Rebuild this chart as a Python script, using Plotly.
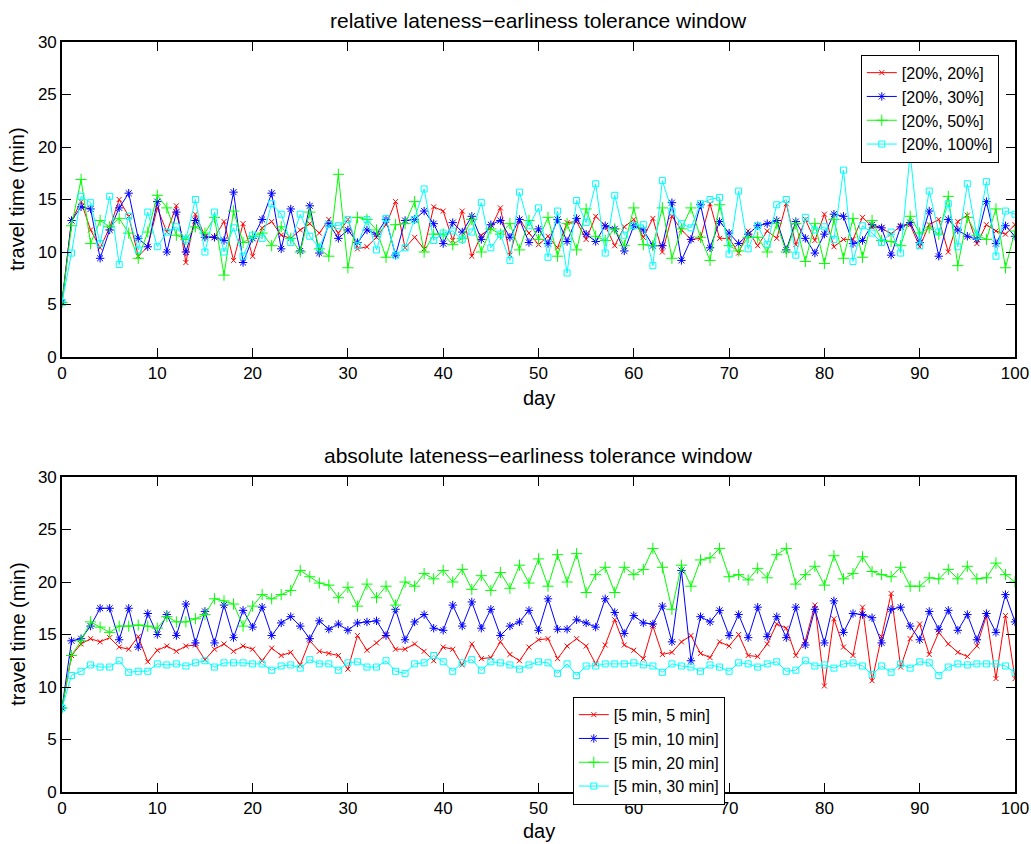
import plotly.graph_objects as go

days = list(range(0, 101))

# top: relative window
rel_20_20 = [5.2, 13.0, 14.8, 12.1, 10.4, 12.3, 15.0, 13.4, 9.6, 10.5,
             14.2, 11.9, 14.4, 9.0, 13.6, 11.5, 11.4, 12.9, 9.2, 12.7,
             9.6, 12.3, 12.9, 11.6, 11.3, 12.1, 12.7, 11.8, 13.1, 11.8,
             13.1, 10.3, 10.5, 11.4, 12.6, 14.8, 10.4, 11.4, 10.3, 14.3,
             13.9, 11.1, 13.9, 9.6, 11.6, 12.3, 14.2, 9.7, 13.1, 11.8,
             10.7, 11.5, 10.4, 12.8, 12.9, 11.2, 13.4, 12.5, 10.6, 12.4,
             13.1, 11.4, 13.2, 10.0, 13.4, 12.1, 11.2, 11.3, 14.6, 11.3,
             11.3, 9.9, 12.0, 10.6, 12.0, 11.3, 14.6, 10.7, 13.1, 11.1,
             13.6, 10.5, 11.2, 11.2, 13.3, 12.4, 12.3, 11.7, 12.5, 12.6,
             10.5, 12.6, 13.1, 10.0, 12.9, 13.5, 10.8, 12.6, 12.0, 11.7,
             12.6]
rel_20_30 = [5.2, 13.0, 14.3, 14.1, 9.4, 12.1, 14.2, 15.6, 11.3, 10.5,
             14.8, 10.0, 13.8, 10.0, 13.0, 11.4, 11.4, 11.1, 15.7, 9.0,
             11.3, 13.1, 15.6, 10.3, 14.1, 10.1, 14.4, 9.9, 12.7, 11.3,
             12.1, 10.9, 12.1, 11.7, 13.1, 9.7, 13.0, 13.1, 13.9, 12.7,
             10.8, 12.8, 11.9, 13.4, 11.2, 12.6, 13.0, 11.4, 13.1, 10.9,
             12.2, 10.8, 13.1, 11.0, 13.2, 11.7, 11.0, 12.5, 12.2, 10.1,
             12.5, 12.1, 10.6, 10.6, 14.7, 9.2, 11.2, 14.5, 10.4, 12.9,
             11.8, 10.8, 11.7, 12.5, 12.7, 13.0, 10.2, 12.9, 11.3, 9.9,
             11.7, 13.6, 13.4, 10.8, 11.1, 12.6, 12.3, 9.7, 12.4, 12.8,
             10.9, 13.9, 9.6, 13.1, 12.1, 11.5, 11.2, 14.8, 10.8, 12.5,
             11.5]
rel_20_50 = [5.2, 12.5, 16.9, 10.8, 13.0, 12.4, 13.2, 11.8, 9.4, 11.9,
             15.4, 14.2, 11.6, 11.2, 12.4, 11.8, 13.3, 7.8, 13.9, 10.9,
             11.5, 11.8, 10.6, 12.4, 11.3, 10.0, 13.8, 10.3, 9.6, 17.4,
             8.5, 13.3, 13.1, 12.1, 9.5, 12.6, 12.7, 14.8, 10.0, 11.7,
             11.7, 10.7, 11.3, 13.1, 10.0, 12.2, 11.7, 12.7, 10.2, 13.0,
             11.2, 13.3, 9.6, 12.7, 10.2, 14.1, 11.5, 11.1, 12.2, 10.6,
             14.2, 10.7, 10.6, 14.2, 9.4, 12.2, 14.2, 11.4, 9.2, 14.5,
             10.6, 10.1, 11.4, 11.4, 10.0, 12.7, 10.0, 12.7, 9.1, 12.7,
             8.9, 13.1, 9.4, 13.2, 9.5, 13.0, 11.1, 11.0, 10.6, 13.4,
             11.8, 12.3, 11.7, 15.3, 8.7, 13.3, 11.6, 11.2, 14.1, 8.5,
             12.0]
rel_20_100 = [5.2, 9.9, 15.3, 14.7, 10.8, 15.3, 8.8, 13.4, 10.2, 13.8,
              10.5, 11.9, 12.4, 11.2, 15.0, 10.0, 13.8, 10.0, 12.3, 9.6,
              11.6, 11.3, 14.6, 13.6, 10.9, 13.6, 11.5, 10.4, 12.6, 12.5,
              13.1, 10.6, 13.1, 10.2, 13.2, 9.7, 10.4, 13.1, 16.0, 11.1,
              11.8, 12.0, 11.2, 11.9, 14.7, 10.4, 11.7, 9.2, 15.7, 12.5,
              14.2, 9.5, 13.9, 8.0, 14.9, 12.8, 16.5, 9.9, 15.4, 11.6,
              12.5, 12.6, 8.7, 16.8, 13.9, 12.7, 12.3, 14.6, 15.0, 15.2,
              9.8, 15.8, 10.3, 12.5, 10.7, 14.5, 15.0, 9.7, 13.3, 12.1,
              12.4, 11.2, 17.8, 9.1, 12.5, 11.8, 10.9, 11.9, 9.9, 19.4,
              10.6, 15.8, 11.9, 14.6, 10.5, 16.5, 11.5, 16.7, 9.6, 13.9,
              13.6]

# bottom: absolute window
abs_5_5 = [8.0, 13.0, 14.1, 14.6, 14.3, 14.7, 13.8, 13.6, 14.8, 12.4,
           13.5, 13.9, 13.4, 13.9, 14.0, 12.6, 13.6, 14.1, 13.4, 13.9,
           13.6, 12.5, 13.7, 13.0, 13.3, 12.1, 14.4, 13.4, 13.2, 13.0,
           11.7, 14.9, 13.5, 14.2, 15.0, 13.6, 13.6, 14.1, 13.4, 12.5,
           13.8, 13.6, 12.1, 14.1, 12.7, 12.8, 14.3, 13.1, 12.5, 13.8,
           14.5, 14.6, 12.7, 13.9, 14.6, 13.9, 12.2, 14.0, 16.4, 14.0,
           13.5, 12.7, 15.8, 13.1, 13.3, 14.3, 14.9, 13.2, 12.8, 14.3,
           13.9, 15.0, 13.0, 12.9, 14.1, 16.0, 15.6, 13.0, 14.4, 17.8,
           10.1, 16.5, 13.8, 13.0, 17.6, 10.6, 14.8, 18.9, 11.9, 14.6,
           16.0, 13.1, 15.2, 14.1, 13.3, 12.9, 13.9, 16.8, 10.8, 16.8,
           10.8]
abs_5_10 = [8.0, 14.4, 14.6, 15.8, 17.5, 17.5, 14.5, 17.5, 13.8, 17.0,
            15.0, 16.9, 14.9, 17.9, 14.2, 17.2, 14.2, 17.8, 14.7, 17.3,
            15.7, 17.6, 14.9, 16.1, 16.7, 15.8, 14.6, 16.3, 15.5, 16.0,
            15.4, 16.1, 16.2, 16.3, 14.9, 17.4, 14.5, 16.2, 16.9, 15.6,
            15.4, 17.8, 15.8, 18.1, 15.6, 17.4, 14.9, 15.8, 16.2, 17.3,
            15.4, 18.4, 15.5, 15.5, 16.4, 16.1, 15.7, 18.4, 17.1, 15.1,
            16.8, 16.1, 16.0, 17.7, 14.3, 21.1, 12.5, 16.7, 16.2, 17.3,
            14.9, 16.9, 14.7, 17.6, 14.8, 16.7, 14.7, 17.6, 14.0, 17.4,
            14.2, 18.2, 15.2, 17.0, 16.9, 16.6, 14.2, 17.4, 17.6, 15.8,
            14.5, 17.2, 15.5, 17.3, 15.4, 16.9, 14.5, 17.0, 15.2, 18.8,
            16.2]
abs_5_20 = [8.0, 13.0, 14.4, 16.2, 15.7, 15.2, 15.8, 15.8, 15.9, 15.8,
            15.6, 16.7, 16.2, 16.2, 16.5, 16.9, 18.4, 18.2, 17.9, 15.8,
            17.7, 18.8, 18.4, 18.8, 19.2, 21.1, 20.5, 19.9, 19.7, 18.5,
            19.5, 17.7, 19.8, 18.5, 19.6, 17.8, 20.0, 19.6, 20.8, 20.3,
            21.1, 20.0, 21.2, 19.3, 20.6, 19.2, 20.9, 19.4, 21.6, 19.9,
            22.2, 19.6, 22.6, 20.0, 22.7, 19.0, 20.7, 21.4, 19.0, 21.4,
            20.7, 21.2, 23.2, 21.4, 17.4, 21.6, 19.6, 22.1, 22.3, 23.2,
            20.5, 20.7, 20.2, 21.3, 20.4, 22.6, 23.2, 19.8, 20.7, 21.5,
            19.7, 22.5, 20.3, 20.8, 22.4, 21.0, 20.7, 20.5, 21.4, 19.6,
            19.6, 20.4, 20.3, 21.2, 20.3, 21.5, 20.3, 20.4, 21.8, 20.7,
            20.0]
abs_5_30 = [8.0, 11.1, 11.5, 12.1, 11.9, 11.9, 12.5, 11.4, 11.5, 11.5,
            12.2, 12.1, 12.2, 12.0, 12.3, 12.5, 11.9, 12.3, 12.3, 12.3,
            12.2, 12.2, 11.6, 12.0, 12.1, 11.8, 12.6, 12.2, 12.2, 11.6,
            12.3, 12.4, 11.9, 11.9, 12.5, 11.5, 11.3, 12.2, 12.3, 13.0,
            12.4, 11.5, 12.3, 12.6, 11.6, 12.4, 12.3, 12.1, 11.7, 12.1,
            12.4, 12.3, 11.3, 12.2, 11.1, 12.0, 12.0, 12.2, 12.2, 12.2,
            12.3, 12.1, 12.0, 11.4, 12.2, 12.0, 11.9, 11.5, 12.1, 11.9,
            11.5, 12.3, 12.2, 11.9, 12.2, 12.4, 11.5, 11.6, 12.5, 12.0,
            12.1, 11.8, 12.2, 12.3, 12.0, 11.2, 12.0, 11.4, 12.2, 11.8,
            12.4, 12.3, 11.1, 11.9, 12.2, 12.1, 12.2, 12.2, 12.2, 12.0,
            11.4]

top_names = ["[20%, 20%]", "[20%, 30%]", "[20%, 50%]", "[20%, 100%]"]
bot_names = ["[5 min, 5 min]", "[5 min, 10 min]", "[5 min, 20 min]", "[5 min, 30 min]"]
colors = ["#ff0000", "#0000ff", "#00ff00", "#00ffff"]
symbols = ["x-thin-open", "asterisk-open", "cross-thin-open", "square-open"]
msizes = [5, 7, 8, 6]

FONT = "Liberation Sans, Arial, Helvetica, sans-serif"

fig = go.Figure()
for i, ys in enumerate([rel_20_20, rel_20_30, rel_20_50, rel_20_100]):
    fig.add_trace(go.Scatter(
        x=days, y=ys, mode="lines+markers", name=top_names[i],
        line=dict(color=colors[i], width=1),
        marker=dict(symbol=symbols[i], size=msizes[i], color=colors[i],
                    line=dict(color=colors[i], width=1)),
        xaxis="x", yaxis="y", legend="legend"))
for i, ys in enumerate([abs_5_5, abs_5_10, abs_5_20, abs_5_30]):
    fig.add_trace(go.Scatter(
        x=days, y=ys, mode="lines+markers", name=bot_names[i],
        line=dict(color=colors[i], width=1),
        marker=dict(symbol=symbols[i], size=msizes[i], color=colors[i],
                    line=dict(color=colors[i], width=1)),
        xaxis="x2", yaxis="y2", legend="legend2"))

axis_common = dict(showgrid=False, zeroline=False, showline=True, linecolor="black",
                   linewidth=1.6, mirror="ticks", ticks="inside", ticklen=9,
                   tickcolor="black", tickwidth=1, automargin=False,
                   tickfont=dict(family=FONT, size=17, color="black"))

legend_common = dict(bgcolor="white", bordercolor="black", borderwidth=1,
                     font=dict(family=FONT, size=16), tracegroupgap=0, itemwidth=30)

fig.update_layout(
    width=1031, height=844,
    margin=dict(l=62, r=16, t=42, b=52, autoexpand=False),
    paper_bgcolor="white", plot_bgcolor="white",
    font=dict(family=FONT, size=17, color="black"),
    xaxis=dict(domain=[0, 1], range=[0, 100], dtick=10, anchor="y", **axis_common),
    yaxis=dict(domain=[0.58, 1.0], range=[0, 30], dtick=5, anchor="x", **axis_common),
    xaxis2=dict(domain=[0, 1], range=[0, 100], dtick=10, anchor="y2", **axis_common),
    yaxis2=dict(domain=[0.0, 0.42], range=[0, 30], dtick=5, anchor="x2", **axis_common),
    legend=dict(x=0.983, xanchor="right", y=0.983, yanchor="top", **legend_common),
    legend2=dict(x=0.536, xanchor="left", y=0.127, yanchor="top", **legend_common),
    showlegend=True,
    annotations=[
        dict(text="relative lateness\u2212earliness tolerance window", xref="paper", yref="paper",
             x=0.5, y=1.029, xanchor="center", yanchor="middle", showarrow=False,
             font=dict(family=FONT, size=21)),
        dict(text="absolute lateness\u2212earliness tolerance window", xref="paper", yref="paper",
             x=0.5, y=0.449, xanchor="center", yanchor="middle", showarrow=False,
             font=dict(family=FONT, size=21)),
        dict(text="day", xref="paper", yref="paper", x=0.5, y=0.525,
             xanchor="center", yanchor="middle", showarrow=False, font=dict(family=FONT, size=20)),
        dict(text="day", xref="paper", yref="paper", x=0.5, y=-0.052,
             xanchor="center", yanchor="middle", showarrow=False, font=dict(family=FONT, size=20)),
        dict(text="travel time (min)", xref="paper", yref="paper", x=-0.047, y=0.79,
             xanchor="center", yanchor="middle", showarrow=False, textangle=-90,
             font=dict(family=FONT, size=20)),
        dict(text="travel time (min)", xref="paper", yref="paper", x=-0.047, y=0.21,
             xanchor="center", yanchor="middle", showarrow=False, textangle=-90,
             font=dict(family=FONT, size=20)),
    ],
)

fig.write_html("out.html")
